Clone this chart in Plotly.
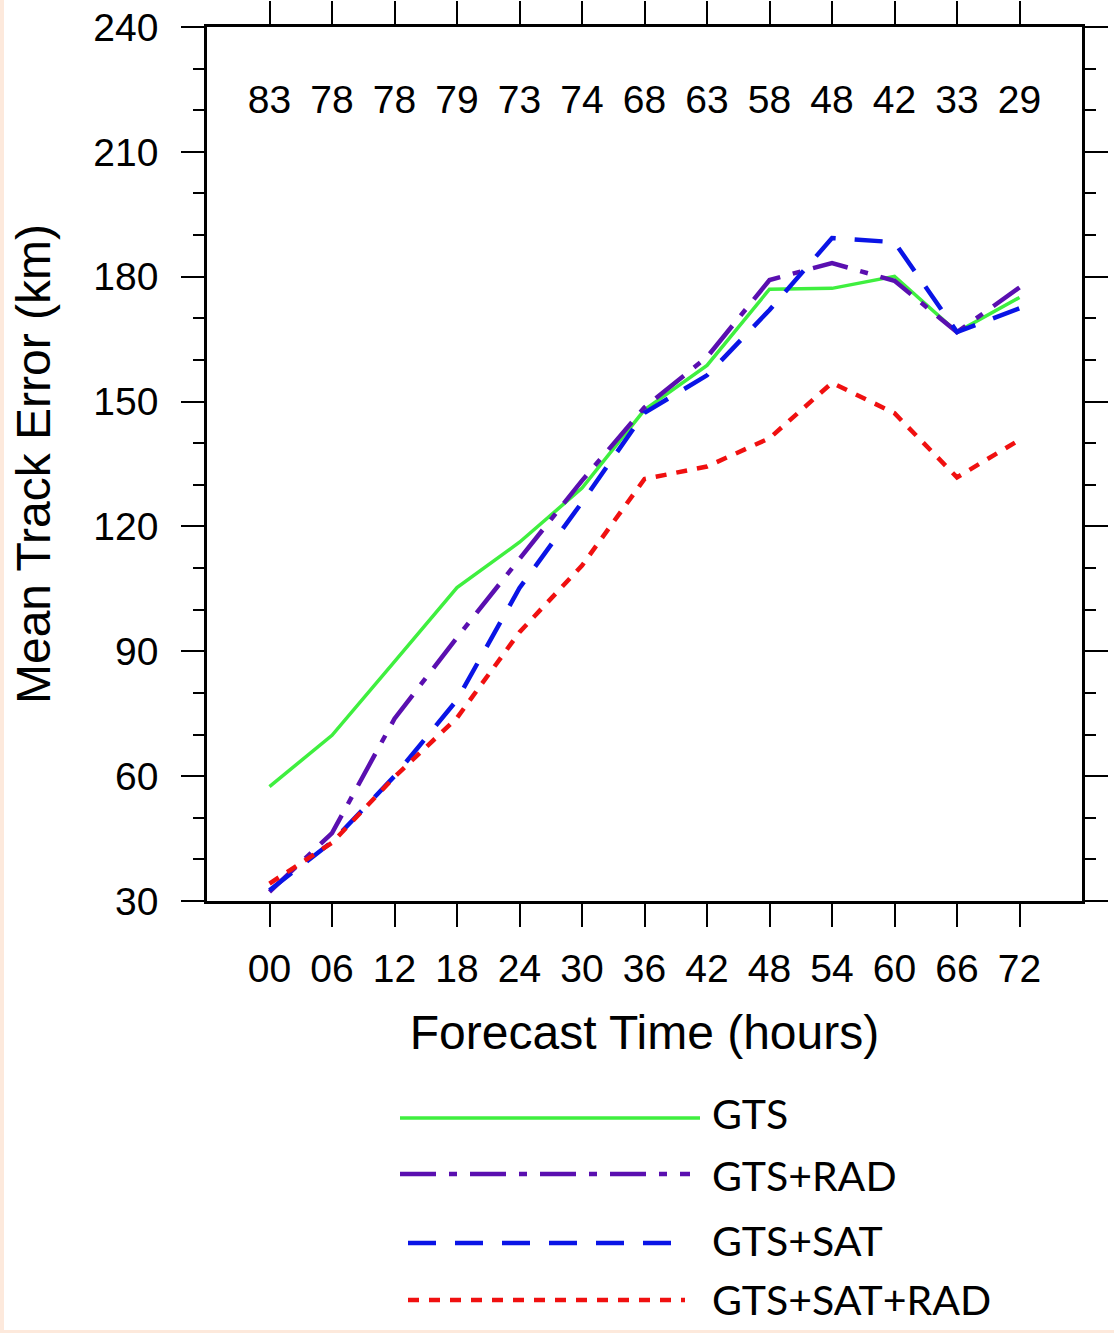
import plotly.graph_objects as go

# ---------------- data ----------------
hours = [0, 6, 12, 18, 24, 30, 36, 42, 48, 54, 60, 66, 72]
hour_labels = ["00", "06", "12", "18", "24", "30", "36", "42", "48", "54", "60", "66", "72"]
case_counts = [83, 78, 78, 79, 73, 74, 68, 63, 58, 48, 42, 33, 29]

gts = [57.5, 69.8, 87.5, 105.3, 116.2, 129.2, 148.0, 158.7, 177.0, 177.2, 180.1, 166.7, 175.0]
gts_rad = [32.2, 46.3, 73.8, 93.3, 112.2, 131.0, 148.6, 160.7, 179.2, 183.3, 179.0, 166.7, 177.4]
gts_sat = [32.6, 44.2, 60.0, 78.3, 105.2, 125.8, 147.3, 156.3, 172.0, 189.3, 188.3, 166.7, 172.4]
gts_sat_rad = [34.2, 44.0, 59.8, 74.0, 94.6, 110.6, 131.4, 134.4, 141.2, 154.5, 147.2, 131.8, 140.8]

y_ticks = [30, 60, 90, 120, 150, 180, 210, 240]
series_names = ["GTS", "GTS+RAD", "GTS+SAT", "GTS+SAT+RAD"]

# ---------------- styles ----------------
FONT = "Liberation Sans, Arial, Helvetica, sans-serif"
LEG_FONT = "Lato, Open Sans, sans-serif"
styles = {
    "GTS": dict(color="#3fef3f", width=3.5, dash="solid"),
    "GTS+RAD": dict(color="#5a0fb0", width=4.5, dash="36px,13px,8px,13px"),
    "GTS+SAT": dict(color="#0a14e6", width=4.5, dash="28px,19px"),
    "GTS+SAT+RAD": dict(color="#f01010", width=4.5, dash="11px,10px"),
}
series = {"GTS": gts, "GTS+RAD": gts_rad, "GTS+SAT": gts_sat, "GTS+SAT+RAD": gts_sat_rad}

W, H = 1114, 1333
L, R, T, B = 207, 32, 27, 432
PW, PH = W - L - R, H - T - B


def px_x(p):
    return (p - L) / PW


def px_y(p):
    return (H - B - p) / PH


fig = go.Figure()
for name in series_names:
    st = styles[name]
    fig.add_trace(go.Scatter(
        x=hours, y=series[name], mode="lines", name=name,
        line=dict(color=st["color"], width=st["width"], dash=st["dash"]),
        showlegend=False,
    ))

# case counts along the top
fig.add_trace(go.Scatter(
    x=hours, y=[221.8] * len(hours), mode="text",
    text=[str(c) for c in case_counts],
    textfont=dict(family=FONT, size=39, color="black"),
    textposition="middle center", showlegend=False, cliponaxis=False,
))

# custom legend (long line samples)
legend_rows = [
    ("GTS", 400, 700, 1118, 1113),
    ("GTS+RAD", 400, 690, 1174, 1175),
    ("GTS+SAT", 408, 685, 1243, 1240),
    ("GTS+SAT+RAD", 408, 685, 1300, 1299),
]
shapes = [
    dict(type="rect", xref="paper", yref="paper",
         x0=px_x(4), x1=px_x(W + 10), y0=px_y(1330), y1=px_y(-10),
         fillcolor="white", line=dict(width=0), layer="below"),
]
annotations = []
for name, xa, xb, yl, yt in legend_rows:
    st = styles[name]
    shapes.append(dict(type="line", xref="paper", yref="paper",
                       x0=px_x(xa), x1=px_x(xb), y0=px_y(yl), y1=px_y(yl),
                       line=dict(color=st["color"], width=st["width"], dash=st["dash"])))
    annotations.append(dict(xref="paper", yref="paper", x=px_x(710), y=px_y(yt),
                            xanchor="left", yanchor="middle", showarrow=False,
                            text=name, font=dict(family=LEG_FONT, size=41, color="black")))

fig.update_layout(
    width=W, height=H,
    margin=dict(l=L, r=R, t=T, b=B, pad=0, autoexpand=False),
    paper_bgcolor="#fde9dc", plot_bgcolor="white",
    font=dict(family=FONT, color="black"),
    shapes=shapes, annotations=annotations,
    showlegend=False,
)

fig.update_xaxes(
    range=[-6, 78], tickmode="array", tickvals=hours, ticktext=hour_labels,
    ticks="outside", ticklen=23, tickwidth=2, tickcolor="black",
    showline=True, linewidth=2.5, linecolor="black", mirror="ticks",
    showgrid=False, zeroline=False, automargin=False,
    tickfont=dict(family=FONT, size=39, color="black"), ticklabelstandoff=8,
    title=dict(text="Forecast Time (hours)", font=dict(family=FONT, size=48, color="black"), standoff=27),
)
fig.update_yaxes(
    range=[30, 240], tickmode="array", tickvals=y_ticks,
    ticks="outside", ticklen=23, tickwidth=2, tickcolor="black",
    minor=dict(dtick=10, tick0=30, ticks="outside", ticklen=11, tickwidth=1.5, tickcolor="black", showgrid=False),
    showline=True, linewidth=2.5, linecolor="black", mirror="ticks",
    showgrid=False, zeroline=False, automargin=False,
    tickfont=dict(family=FONT, size=39, color="black"), ticklabelstandoff=15,
    title=dict(text="Mean Track Error (km)", font=dict(family=FONT, size=48, color="black"), standoff=28),
)

fig.write_html("out.html", config={"displayModeBar": False},
               post_script="document.body.style.margin='0';")
